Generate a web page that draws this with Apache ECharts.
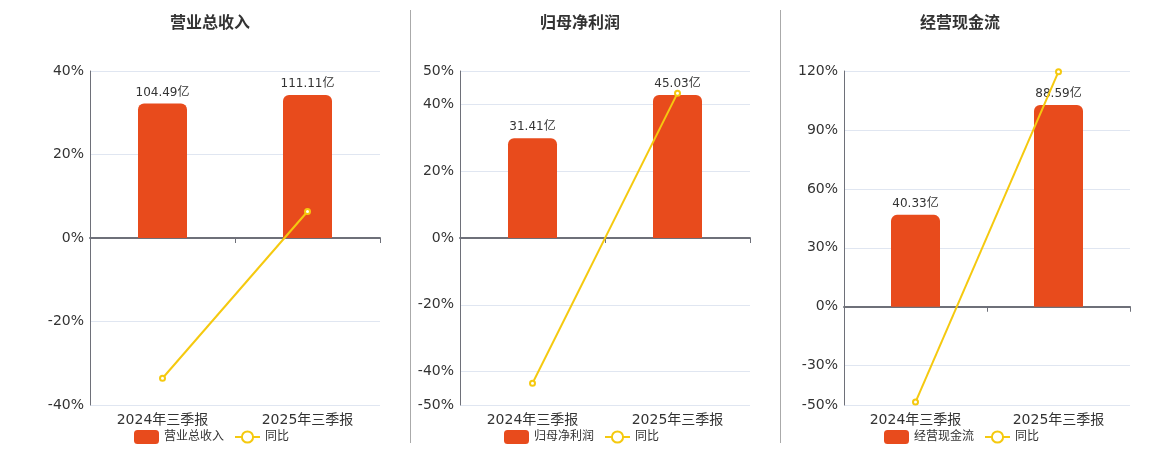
<!DOCTYPE html>
<html>
<head>
<meta charset="utf-8">
<script src="https://cdn.jsdelivr.net/npm/echarts@6/dist/echarts.min.js"></script>
<style>
  html, body { margin: 0; padding: 0; background: #fff; }
  #chart { width: 1160px; height: 450px; }
</style>
</head>
<body>
<div id="chart"></div>
<script>
// 数据
const categories = ['2024年三季报', '2025年三季报'];
const titles = ['营业总收入', '归母净利润', '经营现金流'];
const revenue = [104.49, 111.11];
const revenueYoy = [-33.6, 6.34];
const profit = [31.41, 45.03];
const profitYoy = [-43.5, 43.36];
const cashflow = [40.33, 88.59];
const cashflowYoy = [-48.5, 119.66];

const barData = [revenue, profit, cashflow];
const yoyData = [revenueYoy, profitYoy, cashflowYoy];
// 左轴范围 (%)
const pctMin = [-40, -50, -50];
const pctMax = [40, 50, 120];
const pctSplit = [4, 5, 6];

const font = "'DejaVu Sans', 'Noto Sans CJK SC', sans-serif";
const barColor = '#E84B1C';
const lineColor = '#F5C90F';

// 三个面板的位置
const grids = [
    { left: 90, right: 780, top: 71, bottom: 45 },
    { left: 460, right: 410, top: 71, bottom: 45 },
    { left: 844, right: 30, top: 71, bottom: 45 }
];
const centers = [205, 575, 955];
const legendLeft = [129, 499, 879];

const myChart = echarts.init(document.getElementById('chart'));

let xAxis = [], yAxis = [], series = [], legend = [], title = [];
for (let i = 0; i < 3; i++) {
    // 让柱子的 0 与左轴 0 对齐
    const top = Math.max.apply(null, barData[i]) * 1.168;
    const ratio = pctMin[i] / pctMax[i];

    title.push({
        text: titles[i],
        left: centers[i],
        top: 11,
        textAlign: 'center',
        textStyle: { fontSize: 16, fontWeight: 'bold', color: '#333', fontFamily: font }
    });

    // 底部标签
    xAxis.push({
        type: 'category',
        gridIndex: i,
        data: categories,
        position: 'bottom',
        axisLine: { show: false, onZero: false },
        axisTick: { show: false },
        axisLabel: { fontSize: 14, color: '#333', margin: 8, fontFamily: font }
    });
    // 零线
    xAxis.push({
        type: 'category',
        gridIndex: i,
        data: categories,
        position: 'bottom',
        axisLine: { show: true, onZero: true, onZeroAxisIndex: i * 2, lineStyle: { color: '#6E7079', width: 2 } },
        axisTick: { show: true, length: 5, lineStyle: { color: '#6E7079' } },
        axisLabel: { show: false }
    });

    yAxis.push({
        type: 'value',
        gridIndex: i,
        min: pctMin[i],
        max: pctMax[i],
        splitNumber: pctSplit[i],
        axisLine: { show: true, lineStyle: { color: '#6E7079' } },
        axisTick: { show: false },
        axisLabel: { formatter: '{value}%', fontSize: 14, color: '#333', margin: 6, fontFamily: font },
        splitLine: { lineStyle: { color: '#E0E6F1' } }
    });
    yAxis.push({
        type: 'value',
        gridIndex: i,
        min: top * ratio,
        max: top,
        show: false,
        splitLine: { show: false }
    });

    series.push({
        name: titles[i],
        type: 'bar',
        xAxisIndex: i * 2,
        yAxisIndex: i * 2 + 1,
        data: barData[i],
        barWidth: 49,
        itemStyle: { color: barColor, borderRadius: [6, 6, 0, 0] },
        label: {
            show: true,
            position: 'top',
            formatter: (p) => p.value + '亿',
            fontSize: 12,
            color: '#333',
            fontFamily: font
        }
    });
    series.push({
        name: '同比',
        type: 'line',
        xAxisIndex: i * 2,
        yAxisIndex: i * 2,
        data: yoyData[i],
        symbol: 'emptyCircle',
        symbolSize: 5,
        lineStyle: { color: lineColor, width: 2 },
        itemStyle: { color: lineColor },
        z: 5
    });

    legend.push({
        data: [titles[i], '同比'],
        left: legendLeft[i],
        top: 425,
        itemWidth: 25,
        itemHeight: 14,
        itemGap: 10,
        textStyle: { fontSize: 12, color: '#333', fontFamily: font }
    });
}

myChart.setOption({
    animation: false,
    title: title,
    grid: grids,
    xAxis: xAxis,
    yAxis: yAxis,
    legend: legend,
    series: series,
    graphic: [
        { type: 'line', shape: { x1: 410.5, y1: 10, x2: 410.5, y2: 443 }, style: { stroke: '#aaa', lineWidth: 1 } },
        { type: 'line', shape: { x1: 780.5, y1: 10, x2: 780.5, y2: 443 }, style: { stroke: '#aaa', lineWidth: 1 } }
    ]
});
</script>
</body>
</html>
